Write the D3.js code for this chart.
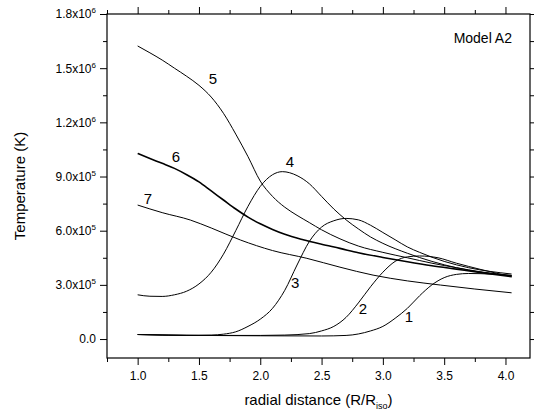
<!DOCTYPE html>
<html>
<head>
<meta charset="utf-8">
<script src="https://cdn.jsdelivr.net/npm/d3@7"></script>
<style>
  body { margin: 0; background: #fff; }
  svg { font-family: "Liberation Sans", Arial, sans-serif; }
</style>
</head>
<body>
<script>
// curve data, temperature in units of 1e6 K
x1 = [1.0, 1.5, 2.0, 2.5, 2.7, 2.9, 3.0, 3.1, 3.2, 3.3, 3.4, 3.5, 3.6, 3.7, 3.8, 4.05]
t1 = [0.025, 0.02, 0.018, 0.017, 0.02, 0.045, 0.07, 0.115, 0.17, 0.24, 0.30, 0.34, 0.358, 0.363, 0.362, 0.352]

x2 = [1.0, 1.5, 2.0, 2.2, 2.4, 2.5, 2.6, 2.7, 2.8, 2.9, 3.0, 3.1, 3.2, 3.3, 3.45, 3.6, 3.8, 4.05]
t2 = [0.025, 0.02, 0.02, 0.022, 0.03, 0.045, 0.07, 0.12, 0.2, 0.29, 0.37, 0.43, 0.455, 0.46, 0.45, 0.42, 0.385, 0.345]

x3 = [1.0, 1.4, 1.6, 1.7, 1.8, 1.9, 2.0, 2.1, 2.2, 2.3, 2.4, 2.5, 2.6, 2.7, 2.8, 2.9, 3.0, 3.1, 3.2, 3.3, 3.5, 3.7, 4.05]
t3 = [0.025, 0.02, 0.022, 0.027, 0.04, 0.07, 0.11, 0.17, 0.27, 0.41, 0.54, 0.62, 0.655, 0.668, 0.66, 0.63, 0.59, 0.55, 0.51, 0.48, 0.43, 0.395, 0.36]

x4 = [1.0, 1.1, 1.2, 1.3, 1.4, 1.5, 1.6, 1.7, 1.8, 1.9, 2.0, 2.1, 2.18, 2.3, 2.4, 2.5, 2.6, 2.7, 2.8, 2.9, 3.0, 3.2, 3.4, 3.6, 3.8, 4.05]
t4 = [0.245, 0.237, 0.236, 0.245, 0.265, 0.305, 0.37, 0.47, 0.6, 0.735, 0.845, 0.91, 0.927, 0.905, 0.86, 0.79, 0.72, 0.66, 0.61, 0.565, 0.53, 0.475, 0.43, 0.395, 0.37, 0.35]

x5 = [1.0, 1.1, 1.2, 1.3, 1.4, 1.5, 1.6, 1.7, 1.8, 1.9, 2.0, 2.1, 2.2, 2.3, 2.4, 2.5, 2.65, 2.8, 3.0, 3.2, 3.4, 3.6, 3.8, 4.05]
t5 = [1.623, 1.585, 1.545, 1.5, 1.455, 1.405, 1.34, 1.25, 1.135, 1.01, 0.875, 0.79, 0.73, 0.685, 0.645, 0.605, 0.555, 0.515, 0.48, 0.45, 0.42, 0.395, 0.372, 0.352]

x6 = [1.0, 1.1, 1.2, 1.3, 1.4, 1.5, 1.6, 1.7, 1.8, 1.9, 2.0, 2.1, 2.2, 2.35, 2.5, 2.65, 2.8, 3.0, 3.2, 3.4, 3.6, 3.8, 4.05]
t6 = [1.028, 1.0, 0.973, 0.945, 0.91, 0.87, 0.82, 0.77, 0.72, 0.675, 0.638, 0.607, 0.58, 0.55, 0.525, 0.502, 0.478, 0.452, 0.428, 0.406, 0.387, 0.368, 0.345]

x7 = [1.0, 1.2, 1.43, 1.6, 1.84, 2.1, 2.38, 2.65, 2.92, 3.2, 3.47, 3.75, 4.05]
t7 = [0.742, 0.70, 0.659, 0.615, 0.548, 0.49, 0.447, 0.398, 0.354, 0.322, 0.299, 0.277, 0.256]

curveNames = ["1", "2", "3", "4", "5", "6", "7"]
curveX = [x1, x2, x3, x4, x5, x6, x7]
curveT = [t1, t2, t3, t4, t5, t6, t7]
// where each number label sits (data coords, centre of the digit)
labelX = [3.213, 2.838, 2.284, 2.242, 1.614, 1.312, 1.084]
labelT = [0.122, 0.166, 0.31, 0.982, 1.445, 1.013, 0.776]

xTicks = [1.0, 1.5, 2.0, 2.5, 3.0, 3.5, 4.0]
yTicks = [0, 0.3, 0.6, 0.9, 1.2, 1.5, 1.8]
xMinor = [0.75, 1.25, 1.75, 2.25, 2.75, 3.25, 3.75]
yMinor = [0.15, 0.45, 0.75, 1.05, 1.35, 1.65]

margin = {top: 14, right: 4, bottom: 53, left: 107}
width = 534
height = 411

x = d3.scaleLinear()
	.domain([0.75, 4.2])
	.range([margin.left, width - margin.right])

y = d3.scaleLinear()
	.domain([-0.105, 1.8])
	.range([height - margin.bottom, margin.top])

var svg = d3.select("body").append("svg")
	.attr("width", width)
	.attr("height", height)

function superLabel(text, v) {
	text.text(null)
	if (v === 0) { text.text("0.0"); return }
	var val = v * 1e6
	var exp = Math.floor(Math.log10(val) + 1e-9)
	var man = (val / Math.pow(10, exp)).toFixed(1)
	text.append("tspan").text(man + "x10")
	text.append("tspan").attr("dy", -5).attr("font-size", 8).text(exp)
}

// each axis: one group for major ticks, one for minor ticks
function addAxis(axisFn, scale, pos, major, minor, labels) {
	var tr = axisFn === d3.axisLeft || axisFn === d3.axisRight
		? "translate(" + pos + ",0)" : "translate(0," + pos + ")"
	var gMaj = svg.append("g").attr("transform", tr)
		.call(axisFn(scale).tickValues(major).tickSize(7).tickPadding(4).tickSizeOuter(0)
			.tickFormat(labels ? d3.format(".1f") : ""))
	svg.append("g").attr("transform", tr)
		.call(axisFn(scale).tickValues(minor).tickSize(4).tickSizeOuter(0).tickFormat(""))
	return gMaj
}

var gy = addAxis(d3.axisLeft, y, margin.left, yTicks, yMinor, true)
gy.selectAll(".tick text").each(function(d) { superLabel(d3.select(this), d) })
addAxis(d3.axisRight, y, width - margin.right, yTicks, yMinor, false)
var gx = addAxis(d3.axisBottom, x, height - margin.bottom, xTicks, xMinor, true)
gx.selectAll(".tick text").attr("dy", "0.95em")
addAxis(d3.axisTop, x, margin.top, xTicks, xMinor, false)

svg.selectAll(".domain").remove()
svg.selectAll(".tick text").attr("font-size", 12).attr("fill", "#000")
svg.selectAll(".tick line").attr("stroke", "#000")

// frame
svg.append("rect")
	.attr("x", margin.left)
	.attr("y", margin.top)
	.attr("width", width - margin.right - margin.left)
	.attr("height", height - margin.bottom - margin.top)
	.attr("fill", "none")
	.attr("stroke", "#000")
	.attr("stroke-width", 1.2)

// curves
var line = d3.line()
	.x(d => x(d[0]))
	.y(d => y(d[1]))
	.curve(d3.curveMonotoneX)

svg.append("g")
	.selectAll("path")
	.data(curveNames)
	.join("path")
	.attr("fill", "none")
	.attr("stroke", "#000")
	.attr("stroke-width", (d, i) => i === 5 ? 1.6 : 1)
	.attr("d", (d, i) => line(curveX[i].map((v, j) => [v, curveT[i][j]])))

svg.append("g")
	.selectAll("text")
	.data(curveNames)
	.join("text")
	.attr("x", (d, i) => x(labelX[i]))
	.attr("y", (d, i) => y(labelT[i]))
	.attr("dy", "0.36em")
	.attr("text-anchor", "middle")
	.attr("font-size", 15)
	.text(d => d)

svg.append("text")
	.attr("x", 512)
	.attr("y", 43)
	.attr("text-anchor", "end")
	.attr("font-size", 14)
	.text("Model A2")

// axis titles
var xt = svg.append("text")
	.attr("x", (margin.left + width - margin.right) / 2)
	.attr("y", 405)
	.attr("text-anchor", "middle")
	.attr("font-size", 15)
xt.append("tspan").text("radial distance (R/R")
xt.append("tspan").attr("font-size", 9).attr("dy", 4).text("iso")
xt.append("tspan").attr("dy", -4).text(")")

svg.append("text")
	.attr("transform", "translate(25," + ((margin.top + height - margin.bottom) / 2) + ") rotate(-90)")
	.attr("text-anchor", "middle")
	.attr("font-size", 15)
	.text("Temperature (K)")
</script>
</body>
</html>
